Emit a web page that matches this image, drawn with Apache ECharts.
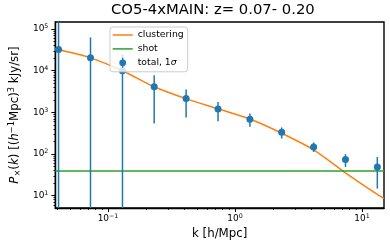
<!DOCTYPE html>
<html><head><meta charset="utf-8">
<script src="https://cdn.jsdelivr.net/npm/echarts@6/dist/echarts.min.js"></script>
<style>html,body{margin:0;padding:0;background:#fff}#c{width:390px;height:248px}</style>
</head><body><div id="c"></div>
<script>
const titleText = 'CO5-4xMAIN: z= 0.07- 0.20';
const kBins = [0.0408, 0.0728, 0.130, 0.231, 0.412, 0.735, 1.31, 2.33, 4.16, 7.41, 13.2];
const totalP = [32500, 20400, 10000, 4100, 2160, 1210, 687, 334, 148, 74, 49];
const totalHigh = [200000, 63000, 25000, 7800, 3540, 1780, 940, 435, 190, 99, 85];
const totalLow = [0, 0, 0, 540, 753, 615, 450, 235, 112, 49, 14.8];
const clusterK = [0.0385, 0.0408, 0.0728, 0.130, 0.231, 0.412, 0.735, 1.31, 2.33, 4.16, 7.41, 13.2, 14.9];
const clusterP = [34900, 32500, 20400, 10000, 4120, 2140, 1220, 692, 316, 126, 35.5, 10.7, 8.5];
const shotLevel = 39.3;
const kRange = [0.0385, 14.9];
const pRange = [5.06, 148000];
const xMajor = [0.1, 1, 10];
const xMinor = [0.04, 0.05, 0.06, 0.07, 0.08, 0.09, 0.2, 0.3, 0.4, 0.5, 0.6, 0.7, 0.8, 0.9, 2, 3, 4, 5, 6, 7, 8, 9];
const yMajor = [10, 100, 1000, 10000, 100000];
const yMinor = [6, 7, 8, 9, 20, 30, 40, 50, 60, 70, 80, 90, 200, 300, 400, 500, 600, 700, 800, 900,
  2000, 3000, 4000, 5000, 6000, 7000, 8000, 9000, 20000, 30000, 40000, 50000, 60000, 70000, 80000, 90000];
const seriesNames = ['clustering', 'shot', 'total, 1σ'];
const colors = ['#ff7f0e', '#2ca02c', '#1f77b4'];

const FF = 'DejaVu Sans';
const supRich = {
  b: {fontFamily: FF, fontSize: 9, lineHeight: 11, color: '#000'},
  s: {fontFamily: FF, fontSize: 6.3, lineHeight: 6, verticalAlign: 'top', color: '#000'}
};
function supFmt(v) {
  const e = Math.round(Math.log10(v));
  return '{b|10}{s|' + (e < 0 ? '\u2212' + (-e) : e) + '}';
}
const chart = echarts.init(document.getElementById('c'), null, {renderer: 'canvas'});
const errData = kBins.map((k, i) => [k, totalLow[i], totalHigh[i]]);
const errIcon = 'path://M0 0M20 10M9.3 0h1.4v10h-1.4zM13.4 5a3.4 3.4 0 1 1 -6.8 0a3.4 3.4 0 1 1 6.8 0z';
const lineIcon = 'path://M0 0M20 10M0 4.25h20v1.5h-20z';

chart.setOption({
  animation: false,
  title: {
    text: titleText, left: 111, top: 3, padding: 0,
    textStyle: {fontFamily: FF, fontSize: 14.8, fontWeight: 'normal', color: '#000'}
  },
  legend: {
    orient: 'vertical', left: 110, top: 27, z: 10,
    padding: [2.5, 4, 3.5, 2.7], itemWidth: 20, itemHeight: 10, itemGap: 2.9,
    backgroundColor: 'rgba(255,255,255,0.8)', borderColor: '#cccccc', borderWidth: 1, borderRadius: 3,
    textStyle: {fontFamily: FF, fontSize: 9.3, lineHeight: 11, color: '#000',
      rich: {n: {fontFamily: FF, fontSize: 9.3, color: '#000'}, i: {fontFamily: FF, fontSize: 9.3, fontStyle: 'italic', color: '#000'}}},
    formatter: function (n) { return n === seriesNames[2] ? '{n|total, 1}{i|σ}' : n; },
    data: [{name: seriesNames[0], icon: lineIcon}, {name: seriesNames[1], icon: lineIcon}, {name: seriesNames[2], icon: errIcon}]
  },
  grid: {left: 52, right: 6, top: 22, bottom: 40, show: true, borderColor: '#000', borderWidth: 1.4, backgroundColor: 'transparent'},
  xAxis: [{
    type: 'log', logBase: 10, min: kRange[0], max: kRange[1],
    axisLine: {show: true, lineStyle: {color: '#000', width: 1.4}},
    axisTick: {show: true, customValues: xMajor, length: 4, lineStyle: {color: '#000', width: 1}},
    axisLabel: {customValues: xMajor, formatter: supFmt, rich: supRich, margin: 5},
    splitLine: {show: false}, minorTick: {show: false},
    name: 'k [h/Mpc]', nameLocation: 'middle', nameGap: 20,
    nameTextStyle: {fontFamily: FF, fontSize: 11.8, color: '#000'}
  }, {
    type: 'log', logBase: 10, min: kRange[0], max: kRange[1], position: 'bottom',
    axisLine: {show: false},
    axisTick: {show: true, customValues: xMinor, length: 2, lineStyle: {color: '#000', width: 0.8}},
    axisLabel: {show: false}, splitLine: {show: false}
  }],
  yAxis: [{
    type: 'log', logBase: 10, min: pRange[0], max: pRange[1],
    axisLine: {show: true, lineStyle: {color: '#000', width: 1.4}},
    axisTick: {show: true, customValues: yMajor, length: 4, lineStyle: {color: '#000', width: 1}},
    axisLabel: {customValues: yMajor, formatter: supFmt, rich: supRich, margin: 7},
    splitLine: {show: false},
    name: '{i|P}{sub|\u00d7}{n|(}{i|k}{n|) [(}{i|h}{sup|\u22121}{n|Mpc)}{sup|3}{n| kJy/sr]}',
    nameLocation: 'middle', nameGap: 33, nameRotate: 90,
    nameTextStyle: {fontFamily: FF, fontSize: 11.8, color: '#000', rich: {
      n: {fontFamily: FF, fontSize: 11.8, lineHeight: 14, color: '#000'},
      i: {fontFamily: FF, fontSize: 11.8, lineHeight: 14, fontStyle: 'italic', color: '#000'},
      sub: {fontFamily: FF, fontSize: 8.3, lineHeight: 9, verticalAlign: 'bottom', color: '#000'},
      sup: {fontFamily: FF, fontSize: 8.3, lineHeight: 7, verticalAlign: 'top', color: '#000'}
    }}
  }, {
    type: 'log', logBase: 10, min: pRange[0], max: pRange[1], position: 'left',
    axisLine: {show: false},
    axisTick: {show: true, customValues: yMinor, length: 2, lineStyle: {color: '#000', width: 0.8}},
    axisLabel: {show: false}, splitLine: {show: false}
  }],
  series: [{
    name: seriesNames[0], type: 'line', data: clusterK.map((k, i) => [k, clusterP[i]]),
    showSymbol: false, symbol: 'none', smooth: 0.25, clip: true, z: 2,
    lineStyle: {color: colors[0], width: 1.5}, itemStyle: {color: colors[0]}
  }, {
    name: seriesNames[1], type: 'line', data: [[kRange[0], shotLevel], [kRange[1], shotLevel]],
    showSymbol: false, symbol: 'none', clip: true, z: 2,
    lineStyle: {color: colors[1], width: 1.5}, itemStyle: {color: colors[1]}
  }, {
    name: seriesNames[2] + ' err', type: 'custom', data: errData, encode: {x: 0, y: 2}, z: 3,
    renderItem: function (params, api) {
      const k = api.value(0), lo = api.value(1), hi = api.value(2);
      const top = api.coord([k, Math.min(hi, pRange[1])]);
      const bot = api.coord([k, lo > 0 ? Math.max(lo, pRange[0]) : pRange[0]]);
      return {type: 'line', shape: {x1: top[0], y1: top[1], x2: bot[0], y2: bot[1]},
        style: {stroke: colors[2], lineWidth: 1.5}};
    }
  }, {
    name: seriesNames[2], type: 'scatter', data: kBins.map((k, i) => [k, totalP[i]]),
    symbol: 'circle', symbolSize: 7, z: 4, itemStyle: {color: colors[2], opacity: 1}
  }]
});
</script></body></html>
